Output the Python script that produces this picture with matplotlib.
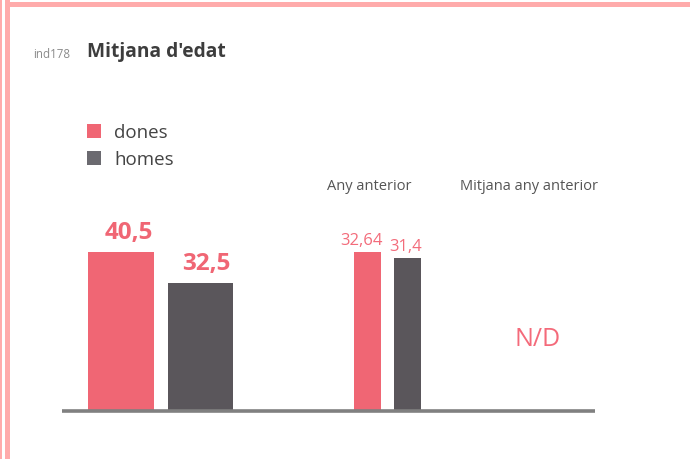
import matplotlib
matplotlib.use("Agg")
import matplotlib.pyplot as plt
from matplotlib.patches import Rectangle
from matplotlib.lines import Line2D

# ---- data ----
series = ["dones", "homes"]
current_values = [40.5, 32.5]
current_labels = ["40,5", "32,5"]
previous_values = [32.64, 31.4]
previous_labels = ["32,64", "31,4"]
mean_previous_label = "N/D"
group_titles = ["Any anterior", "Mitjana any anterior"]
title = "Mitjana d'edat"
indicator = "ind178"

PINK = "#f06674"
DARK = "#5a565b"
BORDER = "#ffabab"
FONT = ["Open Sans", "DejaVu Sans"]

W, H = 690, 459
fig = plt.figure(figsize=(W / 100, H / 100), dpi=100)
fig.patch.set_facecolor("white")


def fx(x):
    return x / W


def fy(y):
    return 1 - y / H


# border
fig.add_artist(Rectangle((fx(0), fy(H)), fx(2), 1, transform=fig.transFigure,
                         color=BORDER, lw=0))
fig.add_artist(Rectangle((fx(5), fy(H)), fx(5), 1, transform=fig.transFigure,
                         color=BORDER, lw=0))
fig.add_artist(Rectangle((fx(5), fy(7)), 1, 5 / H, transform=fig.transFigure,
                         color=BORDER, lw=0))

# header
fig.text(fx(33), fy(58), indicator, fontsize=8.3, color="#8a8a8a",
         family=FONT, va="baseline", ha="left")
fig.text(fx(87), fy(57), title, fontsize=13.8, color="#3d3d3d", weight="bold",
         family=FONT, va="baseline", ha="left")

# legend
for i, (name, col) in enumerate(zip(series, [PINK, "#6b6a70"])):
    ytop = 124 + 27 * i
    fig.add_artist(Rectangle((fx(87), fy(ytop + 14)), 14 / W, 14 / H,
                             transform=fig.transFigure, color=col, lw=0))
    fig.text(fx(114), fy(ytop + 14), name, fontsize=13.5, color="#444444",
             family=FONT, va="baseline", ha="left")

base_px = 411
top_px = 200
scale_px = 159  # pixel height of the largest bar in each group


def make_axes(x0, x1, vmax):
    ax = fig.add_axes([fx(x0), fy(base_px), (x1 - x0) / W, (base_px - top_px) / H])
    ax.set_xlim(-0.5, 1.5)
    ax.set_ylim(0, vmax * (base_px - top_px) / scale_px)
    ax.axis("off")
    ax.patch.set_alpha(0)
    return ax


# current year
ax1 = make_axes(81.25, 240.25, max(current_values))
ax1.bar([0, 1], current_values, width=0.83, color=[PINK, DARK])
for i, (v, lab, dx) in enumerate(zip(current_values, current_labels, [5.8, 4.0])):
    ax1.annotate(lab, (i, v), xytext=(dx, 9.4), textcoords="offset points",
                 ha="center", va="baseline", fontsize=17.5, weight="bold",
                 color=PINK, family=FONT)

# previous year
ax2 = make_axes(347.5, 427.5, max(previous_values))
ax2.bar([0, 1], previous_values, width=0.675, color=[PINK, DARK])
for i, (v, lab, dx) in enumerate(zip(previous_values, previous_labels, [-4.3, -1.1])):
    ax2.annotate(lab, (i, v), xytext=(dx, 5.4), textcoords="offset points",
                 ha="center", va="baseline", fontsize=12,
                 color="#f36c7b", family=FONT)

# group titles
fig.text(fx(369), fy(190), group_titles[0], fontsize=10.5, color="#555555",
         family=FONT, ha="center", va="baseline")
fig.text(fx(529.5), fy(190), group_titles[1], fontsize=10.5, color="#555555",
         family=FONT, ha="center", va="baseline")

# N/D
fig.text(fx(537.5), fy(346), mean_previous_label, fontsize=18, color="#f46a7a",
         family=FONT, ha="center", va="baseline")

# baseline
fig.add_artist(Line2D([fx(62), fx(595)], [fy(411), fy(411)],
                      transform=fig.transFigure, color="#808080", lw=2.6,
                      solid_capstyle="butt"))

fig.savefig("out.png", dpi=100, facecolor="white")
